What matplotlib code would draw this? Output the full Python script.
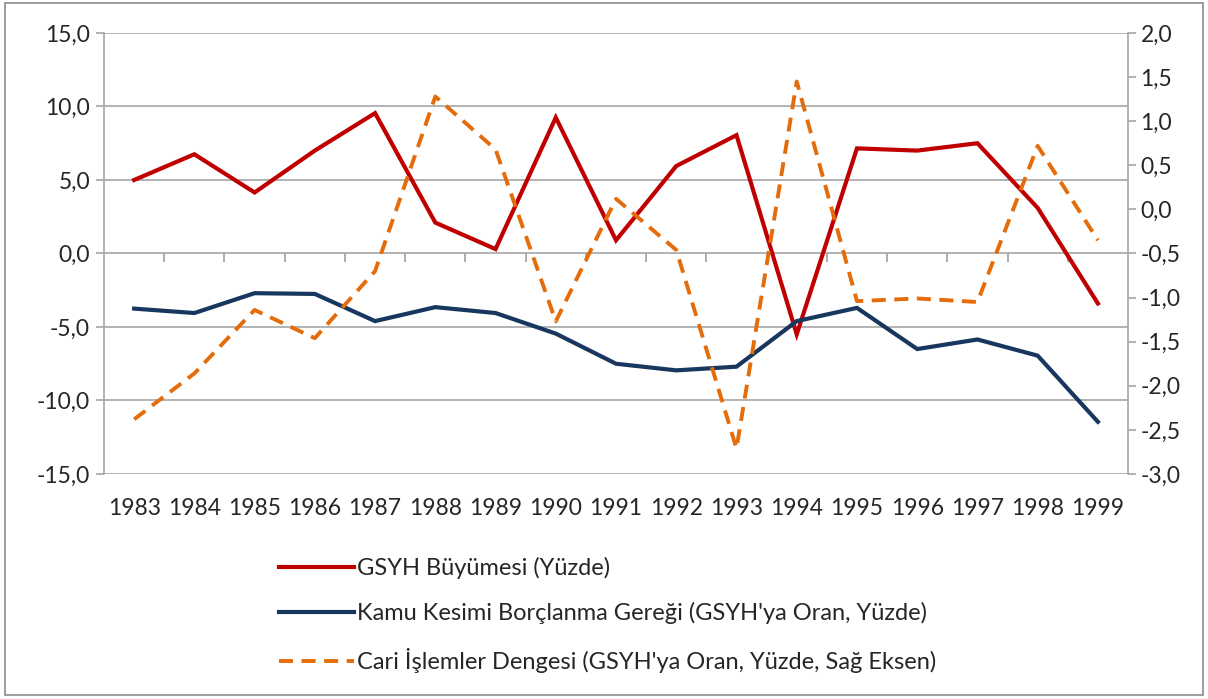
import numpy as np
import matplotlib.pyplot as plt
from matplotlib.ticker import FuncFormatter
from matplotlib.patches import Rectangle

plt.rcParams['font.family'] = ['Lato', 'DejaVu Sans']

years = ['1983', '1984', '1985', '1986', '1987', '1988', '1989', '1990', '1991',
         '1992', '1993', '1994', '1995', '1996', '1997', '1998', '1999']
gsyh = [5.0, 6.75, 4.15, 7.0, 9.55, 2.1, 0.3, 9.25, 0.9,
        5.95, 8.05, -5.5, 7.15, 7.0, 7.5, 3.1, -3.4]
kkbg = [-3.75, -4.05, -2.7, -2.75, -4.6, -3.65, -4.05, -5.45, -7.5,
        -7.95, -7.7, -4.6, -3.7, -6.5, -5.85, -6.95, -11.45]
cari = [-2.38, -1.86, -1.14, -1.46, -0.7, 1.28, 0.68, -1.27, 0.12,
        -0.46, -2.71, 1.45, -1.04, -1.01, -1.05, 0.72, -0.35]

labels = ['GSYH Büyümesi (Yüzde)',
          "Kamu Kesimi Borçlanma Gereği (GSYH'ya Oran, Yüzde)",
          "Cari İşlemler Dengesi (GSYH'ya Oran, Yüzde, Sağ Eksen)"]

red = '#C00000'
navy = '#17375E'
orange = '#E46C0A'
grid = '#A6A6A6'
txt = '#262626'

def comma(v, pos):
    return f'{v:.1f}'.replace('.', ',')

fig = plt.figure(figsize=(12.08, 6.99), dpi=100)
ax = fig.add_axes([0.0861, 0.3219, 0.8477, 0.6309])
ax2 = ax.twinx()
x = np.arange(len(years))

# category boundary ticks hanging below the zero line
bounds = x[:-1] + 0.5
ax.vlines(bounds, -0.55, 0, colors=grid, lw=1.3, zorder=1.5)

l1, = ax.plot(x, gsyh, color=red, lw=3.0, solid_joinstyle='miter')
l2, = ax.plot(x, kkbg, color=navy, lw=3.0, solid_joinstyle='miter')
l3, = ax2.plot(x, cari, color=orange, lw=2.8, dashes=(3.6, 2.2))

ax.set_xlim(-0.5, len(years) - 0.5)
ax.set_ylim(-15, 15)
ax.set_yticks(np.arange(-15, 16, 5))
ax2.set_ylim(-3, 2)
ax2.set_yticks(np.arange(-3, 2.01, 0.5))
ax.yaxis.set_major_formatter(FuncFormatter(comma))
ax2.yaxis.set_major_formatter(FuncFormatter(comma))

ax.grid(axis='y', color=grid, lw=1.2)
ax.set_axisbelow(True)
for a in (ax, ax2):
    for s in ('top', 'bottom'):
        a.spines[s].set_visible(False)
    for s in ('left', 'right'):
        a.spines[s].set_color(grid)
        a.spines[s].set_linewidth(1.2)
ax.spines['right'].set_visible(False)
ax2.spines['left'].set_visible(False)

fs = 16.5
ax.set_xticks(x)
ax.set_xticklabels(years)
ax.tick_params(axis='x', length=0, pad=17, labelsize=fs, labelcolor=txt)
ax.tick_params(axis='y', length=6, width=1.2, color=grid, pad=4, labelsize=fs, labelcolor=txt)
ax2.tick_params(axis='y', length=6, width=1.2, color=grid, pad=3, labelsize=fs, labelcolor=txt)

fig.legend([l1, l2, l3], labels, loc='upper left', bbox_to_anchor=(0.213, 0.234),
           frameon=False, fontsize=17, handlelength=3.2, handletextpad=0.12,
           labelspacing=1.0, labelcolor=txt)

fig.patches.append(Rectangle((0.004, 0.006), 0.992, 0.99, transform=fig.transFigure,
                             fill=False, edgecolor='#8C8C8C', lw=1.2))

fig.savefig('out.png', dpi=100)
